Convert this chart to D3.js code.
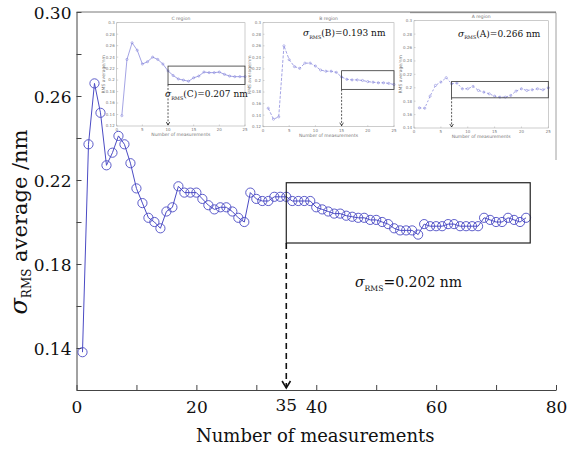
<!DOCTYPE html>
<html>
<head>
<meta charset="utf-8">
<script src="https://cdn.jsdelivr.net/npm/d3@7"></script>
<style>
  body { margin: 0; background: #fff; }
  svg { display: block; }
</style>
</head>
<body>
<svg id="chart" width="585" height="449"></svg>
<script>
// main series: sigma_RMS running average, measurements 1..75
const rmsMain = [
  0.138, 0.237, 0.266, 0.252, 0.227, 0.233, 0.241, 0.237, 0.228, 0.216,
  0.209, 0.202, 0.200, 0.197, 0.205, 0.207, 0.217, 0.214, 0.214, 0.214,
  0.211, 0.208, 0.206, 0.207, 0.207, 0.205, 0.202, 0.200, 0.214, 0.211,
  0.210, 0.210, 0.212, 0.212, 0.212, 0.210, 0.210, 0.210, 0.210, 0.207,
  0.206, 0.205, 0.204, 0.204, 0.203, 0.2025, 0.202, 0.202, 0.201, 0.201,
  0.200, 0.199, 0.197, 0.196, 0.196, 0.196, 0.194, 0.199, 0.198, 0.198,
  0.198, 0.199, 0.199, 0.198, 0.198, 0.198, 0.198, 0.202, 0.201, 0.200,
  0.200, 0.202, 0.201, 0.200, 0.202
];
// inset series (25 measurements each)
const rmsC = [
  0.138, 0.236, 0.265, 0.252, 0.228, 0.232, 0.240, 0.236, 0.228, 0.216,
  0.208, 0.202, 0.200, 0.198, 0.204, 0.207, 0.214, 0.213, 0.213, 0.214,
  0.210, 0.207, 0.206, 0.206, 0.206
];
const rmsB = [
  0.152, 0.133, 0.137, 0.260, 0.236, 0.224, 0.221, 0.230, 0.230, 0.225,
  0.218, 0.216, 0.216, 0.214, 0.206, 0.202, 0.201, 0.201, 0.200, 0.198,
  0.197, 0.196, 0.196, 0.195, 0.193
];
const rmsA = [
  0.170, 0.1695, 0.1875, 0.2035, 0.2085, 0.215, 0.206, 0.207, 0.1985, 0.1985,
  0.202, 0.196, 0.1935, 0.191, 0.1875, 0.186, 0.186, 0.1885, 0.195, 0.1985,
  0.196, 0.197, 0.1985, 0.197, 0.200
];

const mainXTicks = [0, 10, 20, 30, 40, 50, 60, 70, 80];
const mainXLabels = [0, 20, 40, 60, 80];
const mainYTicks = [0.12, 0.14, 0.16, 0.18, 0.20, 0.22, 0.24, 0.26, 0.28, 0.30];
const mainYLabels = [0.14, 0.18, 0.22, 0.26, 0.30];
const markX = 35;
const mainBox = [35, 75.7, 0.190, 0.2187];
const mainNote = ["RMS", "=0.202 nm"];

const insetXTicks = [0, 5, 10, 15, 20, 25];
const insetYTicks = [0.12, 0.14, 0.16, 0.18, 0.2, 0.22, 0.24, 0.26, 0.28, 0.3];
const insetYTicksA = [0.14, 0.16, 0.18, 0.2, 0.22, 0.24, 0.26, 0.28, 0.3];

const svg = d3.select("#chart");
const serif = "'DejaVu Serif', 'Liberation Serif', serif";
const blue = "#4b4bc4";

const x = d3.scaleLinear().domain([0, 80]).range([76.5, 556]);
const y = d3.scaleLinear().domain([0.12, 0.30]).range([390, 12]);

// sigma with subscript helper
function sigmaText(sel, px, py, size, sub, rest, anchor = "start") {
  const t = sel.append("text")
    .attr("x", px).attr("y", py)
    .attr("text-anchor", anchor)
    .style("font-family", serif)
    .style("font-size", size + "px")
    .style("fill", "#111");
  t.append("tspan").style("font-style", "italic").text("σ");
  t.append("tspan").attr("dy", size * 0.3)
    .style("font-size", (size * 0.55) + "px").text(sub);
  t.append("tspan").attr("dy", -size * 0.3).text(rest);
  return t;
}

function arrowDown(sel, px, y0, y1, head, width, dash) {
  sel.append("line")
    .attr("x1", px).attr("x2", px)
    .attr("y1", y0).attr("y2", y1)
    .attr("stroke", "#111")
    .attr("stroke-width", width)
    .attr("stroke-dasharray", dash);
  sel.append("path")
    .attr("d", `M${px - head * 0.6},${y1 - head} L${px},${y1} L${px + head * 0.6},${y1 - head}`)
    .attr("fill", "none")
    .attr("stroke", "#111")
    .attr("stroke-width", width);
}

// ---------- insets ----------
const insets = [
  { data: rmsC, title: "C region", left: 116.7, right: 245, top: 22.7, bottom: 126,
    yDomain: [0.12, 0.3], yTicks: insetYTicks, box: [10, 25, 0.1924, 0.2244],
    note: ["RMS", "(C)=0.207 nm"], noteX: 165, noteY: 97, dash: null },
  { data: rmsB, title: "B region", left: 263, right: 394, top: 22.7, bottom: 126.7,
    yDomain: [0.12, 0.3], yTicks: insetYTicks, box: [15, 25, 0.1846, 0.2169],
    note: ["RMS", "(B)=0.193 nm"], noteX: 303, noteY: 36, dash: "3,1.5" },
  { data: rmsA, title: "A region", left: 414, right: 548.3, top: 20.7, bottom: 128,
    yDomain: [0.14, 0.3], yTicks: insetYTicksA, box: [7, 25, 0.185, 0.2095],
    note: ["RMS", "(A)=0.266 nm"], noteX: 458, noteY: 36.5, dash: "2,2" }
];

insets.forEach((cfg) => {
  const ix = d3.scaleLinear().domain([0, 25]).range([cfg.left, cfg.right]);
  const iy = d3.scaleLinear().domain(cfg.yDomain).range([cfg.bottom, cfg.top]);
  const g = svg.append("g").attr("class", "inset");
  const tiny = "'DejaVu Sans', sans-serif";

  g.append("rect")
    .attr("x", cfg.left).attr("y", cfg.top)
    .attr("width", cfg.right - cfg.left).attr("height", cfg.bottom - cfg.top)
    .attr("fill", "none").attr("stroke", "#aaa").attr("stroke-width", 0.6);

  insetXTicks.forEach((t) => {
    g.append("line").attr("x1", ix(t)).attr("x2", ix(t))
      .attr("y1", cfg.bottom).attr("y2", cfg.bottom - 1.5)
      .attr("stroke", "#aaa").attr("stroke-width", 0.5);
    g.append("text").attr("x", ix(t)).attr("y", cfg.bottom + 5)
      .attr("text-anchor", "middle")
      .style("font-family", tiny).style("font-size", "4px").style("fill", "#777")
      .text(t);
  });
  cfg.yTicks.forEach((t) => {
    g.append("line").attr("x1", cfg.left).attr("x2", cfg.left + 1.5)
      .attr("y1", iy(t)).attr("y2", iy(t))
      .attr("stroke", "#aaa").attr("stroke-width", 0.5);
    g.append("text").attr("x", cfg.left - 2).attr("y", iy(t) + 1.4)
      .attr("text-anchor", "end")
      .style("font-family", tiny).style("font-size", "4px").style("fill", "#777")
      .text(t);
  });

  g.append("text").attr("x", (cfg.left + cfg.right) / 2).attr("y", cfg.top - 3)
    .attr("text-anchor", "middle")
    .style("font-family", tiny).style("font-size", "4.5px").style("fill", "#777")
    .text(cfg.title);
  g.append("text").attr("x", (cfg.left + cfg.right) / 2).attr("y", cfg.bottom + 10)
    .attr("text-anchor", "middle")
    .style("font-family", tiny).style("font-size", "4.5px").style("fill", "#777")
    .text("Number of measurements");
  g.append("text")
    .attr("transform", `translate(${cfg.left - 12},${(cfg.top + cfg.bottom) / 2}) rotate(-90)`)
    .attr("text-anchor", "middle")
    .style("font-family", tiny).style("font-size", "4.5px").style("fill", "#777")
    .text("RMS average/nm");

  const iline = d3.line().x((d, i) => ix(i + 1)).y((d) => iy(d));
  g.append("path").datum(cfg.data)
    .attr("d", iline)
    .attr("fill", "none")
    .attr("stroke", "#7c7cd8")
    .attr("stroke-width", 0.7)
    .attr("stroke-dasharray", cfg.dash);
  g.selectAll("circle").data(cfg.data).join("circle")
    .attr("cx", (d, i) => ix(i + 1)).attr("cy", (d) => iy(d))
    .attr("r", 1.1)
    .attr("fill", "none").attr("stroke", "#7c7cd8").attr("stroke-width", 0.5);

  g.append("rect")
    .attr("x", ix(cfg.box[0])).attr("y", iy(cfg.box[3]))
    .attr("width", ix(cfg.box[1]) - ix(cfg.box[0]))
    .attr("height", iy(cfg.box[2]) - iy(cfg.box[3]))
    .attr("fill", "none").attr("stroke", "#333").attr("stroke-width", 0.8);
  arrowDown(g, ix(cfg.box[0]), iy(cfg.box[2]), cfg.bottom - 1, 3, 0.7, "2,1.5");

  sigmaText(g, cfg.noteX, cfg.noteY, 9, cfg.note[0], cfg.note[1]);
});

// A figure frame (screenshot border)
svg.append("path")
  .attr("d", `M410,12.7 L556,12.7 L556,160`)
  .attr("fill", "none").attr("stroke", "#888").attr("stroke-width", 0.8);

// ---------- main axes ----------
const xAxis = d3.axisBottom(x)
  .tickValues(mainXTicks)
  .tickSizeInner(-5).tickSizeOuter(0)
  .tickPadding(11)
  .tickFormat((d) => (mainXLabels.includes(d) ? d : ""));
const gx = svg.append("g").attr("transform", `translate(0,${y(0.12)})`).call(xAxis);

const yAxis = d3.axisLeft(y)
  .tickValues(mainYTicks)
  .tickSizeInner(-5).tickSizeOuter(0)
  .tickPadding(5)
  .tickFormat((d) => (mainYLabels.some((v) => Math.abs(v - d) < 1e-9) ? d3.format(".2f")(d) : ""));
const gy = svg.append("g").attr("transform", `translate(${x(0)},0)`).call(yAxis);

[gx, gy].forEach((g) => {
  g.selectAll("path.domain").attr("stroke", "#444").attr("stroke-width", 1);
  g.selectAll(".tick line").attr("stroke", "#444");
  g.selectAll(".tick text")
    .style("font-family", serif).style("font-size", "17px").style("fill", "#111");
});
gy.selectAll(".tick text").attr("dy", "0.36em");

// top border
svg.append("line")
  .attr("x1", x(0)).attr("x2", x(80))
  .attr("y1", y(0.30)).attr("y2", y(0.30))
  .attr("stroke", "#555").attr("stroke-width", 0.8);

// special "35" label
svg.append("text")
  .attr("x", x(markX)).attr("y", y(0.12) + 21)
  .attr("text-anchor", "middle")
  .style("font-family", serif).style("font-size", "17px").style("fill", "#111")
  .text(markX);

// axis titles
svg.append("text")
  .attr("x", (x(0) + x(80)) / 2 - 1).attr("y", 442)
  .attr("text-anchor", "middle")
  .style("font-family", serif).style("font-size", "18px").style("fill", "#111")
  .text("Number of measurements");

const yTitle = svg.append("text")
  .attr("transform", `translate(27,222) rotate(-90)`)
  .attr("text-anchor", "middle")
  .style("font-family", serif).style("font-size", "21px").style("fill", "#111");
yTitle.append("tspan").style("font-style", "italic").style("font-size", "24px").text("σ");
yTitle.append("tspan").attr("dy", 4).style("font-size", "12px").text("RMS");
yTitle.append("tspan").attr("dy", -4).text(" average /nm");

// ---------- main series ----------
const line = d3.line().x((d, i) => x(i + 1)).y((d) => y(d));
svg.append("path").datum(rmsMain)
  .attr("d", line)
  .attr("fill", "none")
  .attr("stroke", blue)
  .attr("stroke-width", 1);

svg.selectAll("circle.pt").data(rmsMain).join("circle")
  .attr("class", "pt")
  .attr("cx", (d, i) => x(i + 1))
  .attr("cy", (d) => y(d))
  .attr("r", 4.6)
  .attr("fill", "none")
  .attr("stroke", blue)
  .attr("stroke-width", 0.9);

// highlight box and arrow
svg.append("rect")
  .attr("x", x(mainBox[0])).attr("y", y(mainBox[3]))
  .attr("width", x(mainBox[1]) - x(mainBox[0]))
  .attr("height", y(mainBox[2]) - y(mainBox[3]))
  .attr("fill", "none").attr("stroke", "#222").attr("stroke-width", 1.2);

arrowDown(svg, x(markX), y(mainBox[2]), y(0.12) - 2, 7, 1.6, "6,4");

sigmaText(svg, 355, 287, 14, mainNote[0], mainNote[1]);
</script>
</body>
</html>
